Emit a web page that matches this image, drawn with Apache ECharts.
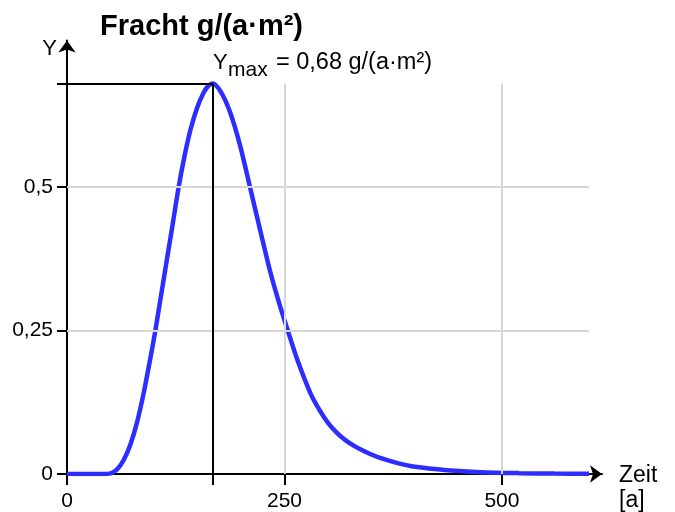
<!DOCTYPE html>
<html>
<head>
<meta charset="utf-8">
<script src="https://cdn.jsdelivr.net/npm/echarts@6/dist/echarts.min.js"></script>
<style>html,body{margin:0;padding:0;background:#fff}#c{width:675px;height:512px}</style>
</head>
<body>
<div id="c"></div>
<script>
// ---- data ----
var timeYears = [0, 20, 40, 50, 57.5, 65, 73, 80.5, 88, 95, 101.6, 108, 115, 122, 128.4, 135, 142, 149.6, 157, 162, 167.5, 177, 188, 199, 210, 222, 234, 245, 253.8, 265, 280, 290, 300, 310, 320, 330, 340, 350, 360, 380, 400, 437, 475, 520, 560, 600];
var fracht    = [0, 0, 0, 0.001, 0.008, 0.024, 0.052, 0.09, 0.14, 0.195, 0.25, 0.31, 0.375, 0.44, 0.5, 0.553, 0.6, 0.638, 0.664, 0.675, 0.68, 0.665, 0.628, 0.572, 0.502, 0.425, 0.35, 0.292, 0.25, 0.198, 0.14, 0.112, 0.089, 0.072, 0.059, 0.049, 0.041, 0.034, 0.028, 0.019, 0.0125, 0.0066, 0.0032, 0.0015, 0.0008, 0.0004];
var xTickValues = [0, 250, 500];
var yTickValues = [0, 0.25, 0.5];
var peakX = 167.5;
var peakY = 0.68;
var gridXEnd = 600;

var font = '"Liberation Sans", Arial, sans-serif';
var chart = echarts.init(document.getElementById('c'));

var curve = timeYears.map(function (t, i) { return [t, fracht[i]]; });

var gridLines = [];
yTickValues.slice(1).forEach(function (v) {
  gridLines.push([{ coord: [0, v] }, { coord: [gridXEnd, v] }]);
});
xTickValues.slice(1).forEach(function (v) {
  gridLines.push([{ coord: [v, 0] }, { coord: [v, peakY] }]);
});

var axisBlack = { color: '#000', width: 2 };

chart.setOption({
  animation: false,
  backgroundColor: '#fff',
  grid: { left: 67, right: 73, top: 40.5, bottom: 36.5, containLabel: false },
  xAxis: [{
    type: 'value', min: 0, max: 615, interval: 250, position: 'bottom',
    axisLine: { show: true, lineStyle: axisBlack, symbol: ['none', 'arrow'], symbolSize: [13, 12] },
    axisTick: { show: true, length: 11, lineStyle: axisBlack, customValues: [0, peakX].concat(xTickValues.slice(1)) },
    axisLabel: { show: true, customValues: xTickValues, color: '#000', fontSize: 21, fontFamily: font, margin: 17,
      formatter: function (v) { return xTickValues.indexOf(v) >= 0 ? String(v) : ''; } },
    splitLine: { show: false }
  }, {
    type: 'value', min: 0, max: 615, interval: 250, position: 'bottom', offset: 0,
    axisLine: { show: false },
    axisTick: { show: true, inside: true, length: 10, lineStyle: axisBlack, customValues: xTickValues.slice(1) },
    axisLabel: { show: false },
    splitLine: { show: false }
  }],
  yAxis: [{
    type: 'value', min: 0, max: 0.755, interval: 0.25, position: 'left',
    axisLine: { show: true, lineStyle: axisBlack, symbol: ['none', 'arrow'], symbolSize: [13, 12] },
    axisTick: { show: true, length: 10, lineStyle: axisBlack, customValues: yTickValues.concat([peakY]) },
    axisLabel: { show: true, customValues: yTickValues, color: '#000', fontSize: 21, fontFamily: font, margin: 14,
      formatter: function (v) { return yTickValues.indexOf(v) >= 0 ? String(v).replace('.', ',') : ''; } },
    splitLine: { show: false }
  }, {
    type: 'value', min: 0, max: 0.755, interval: 0.25, position: 'left', offset: 0,
    axisLine: { show: false },
    axisTick: { show: true, inside: true, length: 10, lineStyle: axisBlack, customValues: yTickValues.slice(1) },
    axisLabel: { show: false },
    splitLine: { show: false }
  }],
  series: [{
    type: 'line', data: [], z: 1, silent: true,
    markLine: { silent: true, symbol: 'none', label: { show: false },
      lineStyle: { color: '#d6d6d6', width: 2, type: 'solid' }, data: gridLines }
  }, {
    type: 'line', data: [], z: 2, silent: true,
    markLine: { silent: true, symbol: 'none', label: { show: false },
      lineStyle: { color: '#000', width: 2, type: 'solid' },
      data: [
        [{ coord: [0, peakY] }, { coord: [peakX, peakY] }],
        [{ coord: [peakX, peakY] }, { coord: [peakX, 0] }]
      ] }
  }, {
    type: 'line', data: curve, z: 3, smooth: 0.3, showSymbol: false, silent: true,
    lineStyle: { color: '#2d2dff', width: 4.5 }
  }],
  graphic: [
    { type: 'text', left: 100, top: 12, style: { text: 'Fracht g/(a·m²)', font: 'bold 29px ' + font, fill: '#000' } },
    { type: 'text', x: 57, y: 49, style: { text: 'Y', font: '22px ' + font, fill: '#000', align: 'right', verticalAlign: 'middle' } },
    { type: 'text', x: 213, y: 63, style: { text: 'Y', font: '22px ' + font, fill: '#000', verticalAlign: 'middle' } },
    { type: 'text', x: 228, y: 70, style: { text: 'max', font: '21px ' + font, fill: '#000', verticalAlign: 'middle' } },
    { type: 'text', x: 276, y: 63, style: { text: '= 0,68 g/(a·m²)', font: '23.5px ' + font, fill: '#000', verticalAlign: 'middle' } },
    { type: 'text', x: 619, y: 476, style: { text: 'Zeit', font: '23px ' + font, fill: '#000', verticalAlign: 'middle' } },
    { type: 'text', x: 619, y: 501, style: { text: '[a]', font: '23px ' + font, fill: '#000', verticalAlign: 'middle' } }
  ]
});
</script>
</body>
</html>
